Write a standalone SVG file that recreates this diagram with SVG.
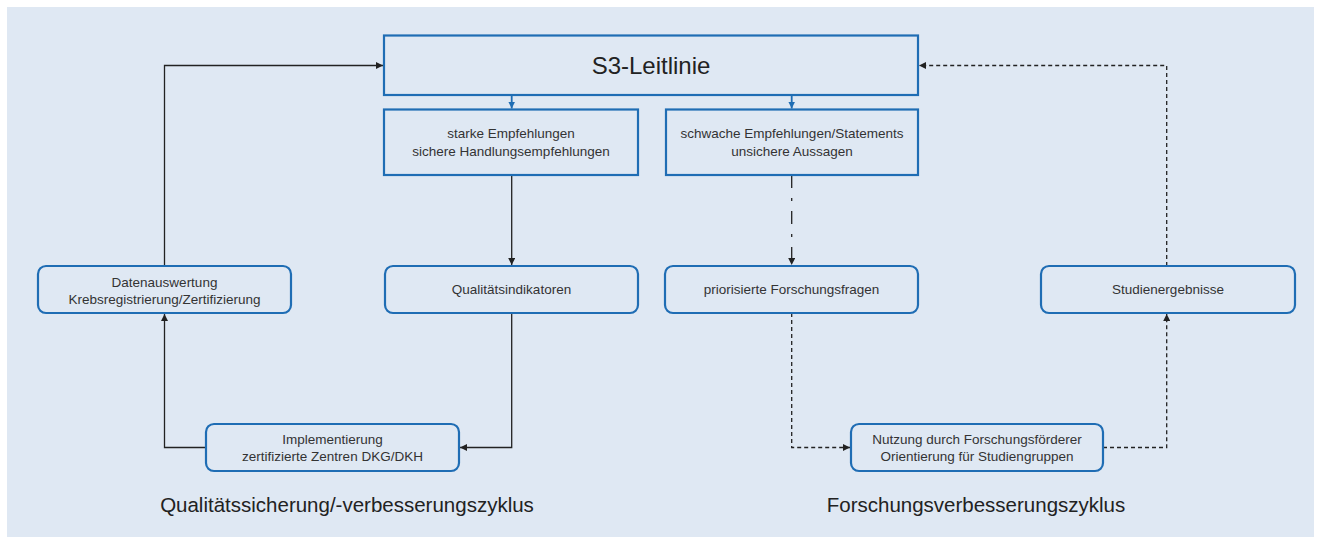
<svg xmlns="http://www.w3.org/2000/svg" width="1322" height="544" viewBox="0 0 1322 544">
<defs>
<style>
.box{fill:#dfe8f3;stroke:#1f6db4;stroke-width:2.2}
.t{font-family:"Liberation Sans",Arial,sans-serif;font-size:13.5px;fill:#333;text-anchor:middle}
.big{font-family:"Liberation Sans",Arial,sans-serif;font-size:24px;fill:#222;text-anchor:middle}
.cap{font-family:"Liberation Sans",Arial,sans-serif;font-size:20.5px;fill:#222;text-anchor:middle}
.c{fill:none;stroke:#222;stroke-width:1.3}
.dash{stroke-dasharray:4 3}
.dd{stroke-dasharray:13 10 3 10}
.blue{fill:none;stroke:#1f6db4;stroke-width:1.8}
</style>
<marker id="ah" viewBox="0 0 10 10" refX="10" refY="5" markerWidth="7" markerHeight="7" markerUnits="userSpaceOnUse" orient="auto"><path d="M0,0 L10,5 L0,10 z" fill="#222"/></marker>
<marker id="ahb" viewBox="0 0 10 10" refX="10" refY="5" markerWidth="7" markerHeight="7" markerUnits="userSpaceOnUse" orient="auto"><path d="M0,0 L10,5 L0,10 z" fill="#1f6db4"/></marker>
</defs>
<rect x="0" y="0" width="1322" height="544" fill="#ffffff"/>
<rect x="7" y="7" width="1307" height="530" fill="#dfe8f3"/>

<g id="connectors">
<path class="blue" d="M511.7,95 V108.5" marker-end="url(#ahb)"/>
<path class="blue" d="M791.7,95 V108.5" marker-end="url(#ahb)"/>
<path class="c" d="M164.5,266 V65.5 H383" marker-end="url(#ah)"/>
<path class="c" d="M206,447.5 H164.5 V314" marker-end="url(#ah)"/>
<path class="c" d="M511.7,313 V447.5 H460" marker-end="url(#ah)"/>
<path class="c" d="M511.7,175 V265" marker-end="url(#ah)"/>
<path class="c dd" d="M791.7,175 V265" marker-end="url(#ah)"/>
<path class="c dash" d="M791.7,313 V447.5 H850" marker-end="url(#ah)"/>
<path class="c dash" d="M1103,447.5 H1166.7 V314" marker-end="url(#ah)"/>
<path class="c dash" d="M1166.7,266 V65.5 H919" marker-end="url(#ah)"/>
</g>

<g id="s3">
<rect class="box" x="384" y="35.5" width="534" height="59.5"/>
<text class="big" x="651" y="74">S3-Leitlinie</text>
</g>
<g id="starke">
<rect class="box" x="384" y="109.5" width="254" height="65.5"/>
<text class="t" x="511" y="138">starke Empfehlungen</text>
<text class="t" x="511" y="156">sichere Handlungsempfehlungen</text>
</g>
<g id="schwache">
<rect class="box" x="666" y="109.5" width="252" height="65.5"/>
<text class="t" x="792" y="138">schwache Empfehlungen/Statements</text>
<text class="t" x="792" y="156">unsichere Aussagen</text>
</g>
<g id="datenauswertung">
<rect class="box" x="38" y="266" width="253" height="47" rx="8"/>
<text class="t" x="164.5" y="286.5">Datenauswertung</text>
<text class="t" x="164.5" y="303.5">Krebsregistrierung/Zertifizierung</text>
</g>
<g id="qualitaetsindikatoren">
<rect class="box" x="385" y="266" width="253" height="47" rx="8"/>
<text class="t" x="511.5" y="294">Qualitätsindikatoren</text>
</g>
<g id="forschungsfragen">
<rect class="box" x="665" y="266" width="253" height="47" rx="8"/>
<text class="t" x="791.5" y="294">priorisierte Forschungsfragen</text>
</g>
<g id="studienergebnisse">
<rect class="box" x="1041" y="266" width="254" height="47" rx="8"/>
<text class="t" x="1168" y="294">Studienergebnisse</text>
</g>
<g id="implementierung">
<rect class="box" x="206" y="424" width="253" height="47" rx="8"/>
<text class="t" x="332.5" y="444">Implementierung</text>
<text class="t" x="332.5" y="460.5">zertifizierte Zentren DKG/DKH</text>
</g>
<g id="nutzung">
<rect class="box" x="851" y="424" width="252" height="47" rx="8"/>
<text class="t" x="977" y="444">Nutzung durch Forschungsförderer</text>
<text class="t" x="977" y="460.5">Orientierung für Studiengruppen</text>
</g>
<g id="labels">
<text class="cap" x="347" y="512">Qualitätssicherung/-verbesserungszyklus</text>
<text class="cap" x="976" y="512">Forschungsverbesserungszyklus</text>
</g>
</svg>
